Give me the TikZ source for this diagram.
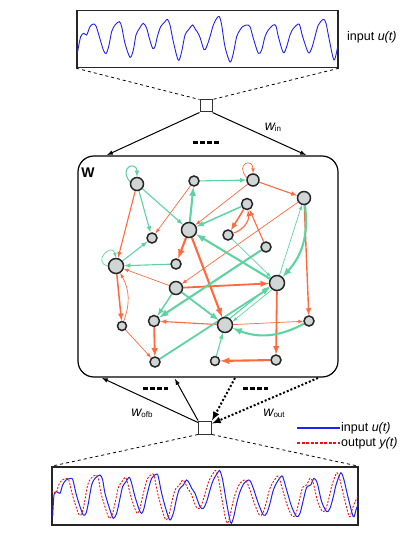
\documentclass[tikz,border=0pt]{standalone}
\usepackage{fontspec}
\setmainfont{Liberation Sans}
\usetikzlibrary{arrows,backgrounds}
\definecolor{exc}{HTML}{FF6A3D}
\definecolor{inh}{HTML}{5ED3A1}
\definecolor{unitfill}{HTML}{D0D6D6}
\definecolor{unitline}{HTML}{262626}
\definecolor{sigblue}{HTML}{2222EE}
\definecolor{sigred}{HTML}{F01010}
\newcommand{\wlab}[1]{{\fontsize{14}{16}\selectfont\itshape w}\raisebox{-1pt}{\fontsize{8}{9}\selectfont #1}}
% signal traces, in zoomed units (3 per pt)
\newcommand{\inwave}[1]{\draw[#1] plot[smooth,tension=.5] coordinates {
  (52,160) (62,110) (72,100) (80,105) (90,80) (100,72) (108,78) (118,110) (130,150) (138,161)
  (146,140) (155,95) (165,75) (178,65) (185,80) (195,130) (210,172) (220,150) (228,105) (238,86)
  (250,70) (260,85) (268,115) (278,145) (285,140) (292,110) (302,80) (315,65) (322,58) (330,75)
  (340,125) (355,181) (365,155) (375,105) (385,90) (398,75) (405,86) (412,96) (420,112) (432,149)
  (440,140) (450,110) (460,75) (470,55) (478,50) (485,75) (495,140) (510,186) (520,160) (530,110)
  (540,90) (548,80) (560,75) (570,80) (580,115) (595,160) (605,150) (615,110) (625,90) (640,75)
  (648,78) (655,110) (670,158) (680,140) (690,105) (700,85) (715,72) (720,78) (728,110) (745,158)
  (755,145) (765,110) (775,75) (790,58) (798,70) (808,120) (822,180) (833,140)};}
\newcommand{\outwave}[1]{\draw[#1] plot[smooth,tension=.5] coordinates {
  (38,440) (42,375) (50,365) (60,370) (68,345) (78,330) (95,325) (100,335) (108,370) (120,410)
  (130,435) (138,430) (145,400) (155,345) (165,325) (180,315) (188,330) (195,370) (210,420) (220,445)
  (230,430) (240,385) (248,350) (258,335) (268,322) (275,340) (285,380) (298,420) (305,430) (312,415)
  (322,370) (335,325) (350,312) (355,320) (365,370) (380,425) (390,450) (400,430) (410,385) (418,358)
  (430,345) (440,330) (448,340) (455,355) (465,370) (480,410) (490,415) (500,395) (510,360) (520,330)
  (535,305) (540,303) (548,330) (560,400) (572,458) (580,445) (590,400) (600,365) (612,340) (625,330)
  (632,335) (640,355) (655,400) (670,435) (680,430) (690,400) (700,360) (712,335) (725,318) (730,325)
  (740,360) (755,410) (770,440) (780,430) (790,390) (800,352) (812,345) (822,325) (832,340) (845,395)
  (860,425) (870,415) (880,380) (888,345) (900,312) (905,310) (912,330) (925,385) (940,440) (948,420)
  (955,400) (965,380)};}

\begin{document}
\begin{tikzpicture}[x=1pt,y=-1pt,>=latex,
  neuron/.style={circle,draw=unitline,fill=unitfill,line width=1.5pt,inner sep=0pt,minimum size=10pt},
  bigneuron/.style={neuron,minimum size=15pt},
  midneuron/.style={neuron,minimum size=13pt},
  tinyneuron/.style={neuron,minimum size=9pt},
  rlink/.style={->,color=exc,line width=1.1pt},
  glink/.style={->,color=inh,line width=1.1pt},
  faint/.style={line width=.7pt},
  heavy/.style={line width=2.1pt},
  sigbox/.style={draw=black!85,line width=1.5pt,inner sep=0pt},
  tapbox/.style={draw=black!80,line width=1pt,inner sep=0pt,fill=white},
  lbl/.style={font=\fontsize{12.5}{14}\selectfont,inner sep=1pt},
  dots4/.style={line width=3pt,dash pattern=on 4.5pt off 2.5pt},
]
\useasboundingbox (0,0) rectangle (415,537);

% input signal
\node[sigbox,minimum width=261pt,minimum height=57pt] (inbox) at (207.5,39) {};
\begin{scope}
  \clip (inbox.south west) rectangle (inbox.north east);
  \begin{scope}[shift={(60,0)},scale=1/3]
    \inwave{sigblue,line width=.9pt}
  \end{scope}
\end{scope}
\node[lbl,anchor=west] (inlabel) at (346,37) {input \textit{u(t)}};
\node[tapbox,minimum size=12pt] (insq) at (206,106) {};
\draw[dashed,line width=.8pt] (inbox.south west) -- (insq.north west);
\draw[dashed,line width=.8pt] (inbox.south east) -- (insq.north east);

% reservoir
\node[draw,line width=1.2pt,rounded corners=16pt,minimum width=260pt,minimum height=221pt] (res) at (208,266.5) {};
\node[font=\bfseries\fontsize{14}{16}\selectfont] (wlabel) at (88,173) {W};
\coordinate (in1) at (107,155);
\coordinate (in2) at (306,155);
\draw[->,line width=1pt] (insq.south west) -- (in1);
\draw[->,line width=1pt] (insq.south east) -- (in2);
\draw[dots4] (193,143) -- (219,143);
\node (winlabel) at (273,127) {\wlab{in}};

\node[midneuron] (a) at (137,184) {};
\node[neuron] (b) at (194,181) {};
\node[bigneuron] (c) at (189,230) {};
\node[neuron] (d) at (152,238) {};
\node[bigneuron] (e) at (116,266) {};
\node[neuron] (f) at (176,264) {};
\node[neuron,minimum size=11pt] (g) at (247,204) {};
\node[neuron,minimum size=12pt] (h) at (253,180) {};
\node[midneuron] (i) at (304,198) {};
\node[neuron] (j) at (228,235) {};
\node[neuron] (k) at (266,247) {};
\node[bigneuron] (l) at (277,283) {};
\node[midneuron] (m) at (176,288) {};
\node[tinyneuron] (n) at (122,326) {};
\node[neuron,minimum size=11pt] (o) at (154,321) {};
\node[bigneuron] (p) at (225,325) {};
\node[neuron] (q) at (155,362) {};
\node[tinyneuron] (r) at (215,361) {};
\node[neuron] (s) at (309,321) {};
\node[neuron] (t) at (276,360) {};

\begin{scope}[on background layer]
\path[rlink]
  (a) edge (e)
  (b) edge[faint] (d)
  (h) edge[faint] (c)
  (i) edge[faint] (m)
  (c) edge[heavy] (f)
  (c) edge[heavy] (p)
  (h) edge (i)
  (g) edge[line width=1.5pt] (j)
  (j) edge[bend right=40] (g)
  (k) edge (g)
  (i) edge[line width=1.4pt] (s)
  (m) edge[faint] (e)
  (e) edge[line width=1.5pt] (n)
  (n) edge[faint,bend right=25] (e)
  (m) edge[line width=1.8pt] (l)
  (p) edge (o)
  (o) edge[line width=1.8pt] (q)
  (n) edge[faint] (q)
  (p) edge[faint] (s)
  (l) edge[line width=1.8pt] (t)
  (t) edge[heavy] (r);
\draw[rlink,faint] (h.160) .. controls +(-12,-14) and +(0,-16) .. (h.north);
\path[glink]
  (a) edge (d)
  (a) edge (c)
  (c) edge[heavy] (b)
  (b) edge (h)
  (g) edge[line width=1.5pt] (c)
  (l) edge[heavy] (c)
  (e) edge (d)
  (f) edge (e)
  (m) edge[line width=1.5pt] (o)
  (m) edge[line width=1.8pt] (p)
  (k) edge[heavy] (o)
  (j) edge[faint] (l)
  (l) edge[faint] (i)
  (i) edge[heavy,bend left=25] (l)
  (q) edge[line width=1.8pt] (l)
  (p.53) edge (l.205)
  (l.233) edge[faint] (p.25)
  (s) edge[heavy,bend left=25] (p)
  (r) edge (p);
\draw[glink] (a.165) .. controls +(-12,-16) and +(0,-16) .. (a.north);
\draw[glink,faint] (e.west) .. controls +(-16,-4) and +(-4,-16) .. (e.north);
\end{scope}

% readout and feedback
\node[tapbox,minimum size=13pt] (outsq) at (205,427.5) {};
\coordinate (fb1) at (102,378);
\coordinate (fb2) at (175,379);
\coordinate (ro1) at (235,378);
\coordinate (ro2) at (318,378);
\draw[->,line width=1pt] ([yshift=-2pt]outsq.north west) -- (fb1);
\draw[->,line width=1pt] (outsq.north west) -- (fb2);
\draw[->,line width=2pt,dotted] (ro1) -- (outsq.north east);
\draw[->,line width=2pt,dotted] (ro2) -- ([yshift=-3pt]outsq.north east);
\draw[dots4] (143,388) -- (168,388);
\draw[dots4] (243,388) -- (268,388);
\node (wofb) at (142,413) {\wlab{ofb}};
\node (wout) at (274,413) {\wlab{out}};

% legend
\coordinate (leg1a) at (297,428);
\coordinate (leg1b) at (340,428);
\coordinate (leg2a) at (297,443);
\coordinate (leg2b) at (340,443);
\draw[sigblue,line width=1.3pt] (leg1a) -- (leg1b);
\draw[sigred,line width=1.3pt,dash pattern=on 3pt off 1.5pt] (leg2a) -- (leg2b);
\node[lbl,anchor=west] (leg1) at (leg1b) {input \textit{u(t)}};
\node[lbl,anchor=west] (leg2) at (leg2b) {output \textit{y(t)}};

% output signal
\node[sigbox,minimum width=306pt,minimum height=58pt] (outbox) at (205,496) {};
\draw[dashed,line width=.8pt] (outsq.south west) -- (outbox.north west);
\draw[dashed,line width=.8pt] (outsq.south east) -- (outbox.north east);
\begin{scope}
  \clip (outbox.south west) rectangle (outbox.north east);
  \begin{scope}[shift={(40,370)},scale=1/3]
    \outwave{sigblue,line width=1pt}
  \end{scope}
  \begin{scope}[shift={(36,370)},scale=1/3]
    \outwave{sigred,line width=.9pt,dash pattern=on 2pt off 1.5pt}
  \end{scope}
\end{scope}
\end{tikzpicture}
\end{document}
